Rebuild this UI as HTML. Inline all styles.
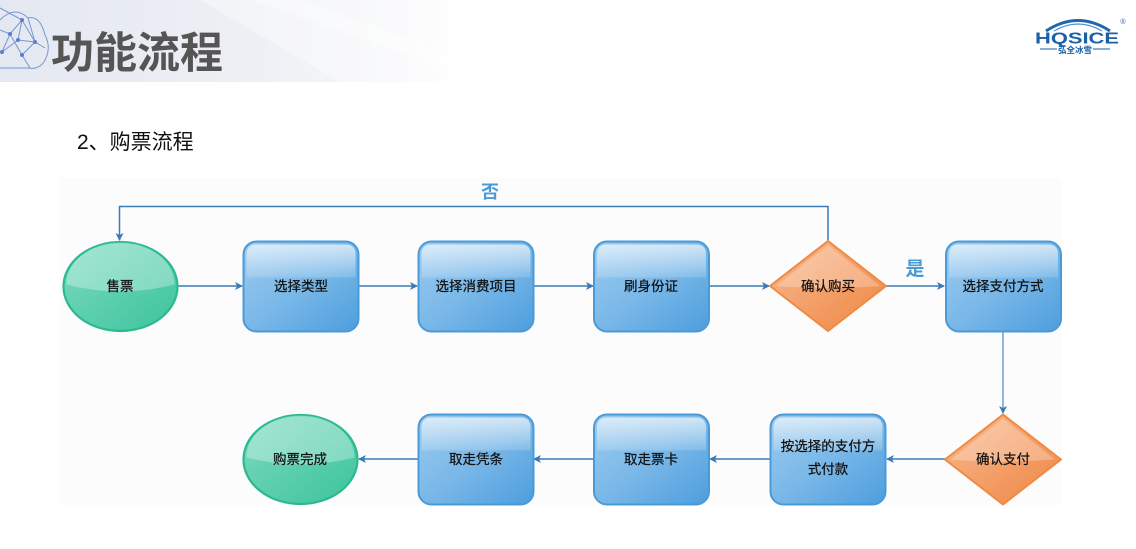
<!DOCTYPE html>
<html><head><meta charset="utf-8"><style>
html,body{margin:0;padding:0;background:#fff;}
body{width:1136px;height:549px;overflow:hidden;position:relative;font-family:"Liberation Sans","Noto Sans CJK SC",sans-serif;}
svg{position:absolute;left:0;top:0;}
</style></head><body>
<svg width="1136" height="549" viewBox="0 0 1136 549" xmlns="http://www.w3.org/2000/svg">
<defs>
  <linearGradient id="hdr" x1="0" y1="0" x2="1" y2="0">
    <stop offset="0" stop-color="#e4e8f1"/>
    <stop offset="0.55" stop-color="#eef0f5"/>
    <stop offset="0.85" stop-color="#f7f8fa"/>
    <stop offset="1" stop-color="#ffffff"/>
  </linearGradient>
  <linearGradient id="blue" x1="0" y1="0" x2="1" y2="1">
    <stop offset="0" stop-color="#9ccbf0"/>
    <stop offset="0.5" stop-color="#7ab8e8"/>
    <stop offset="1" stop-color="#4c9edd"/>
  </linearGradient>
  <linearGradient id="blueGloss" x1="0" y1="0" x2="0" y2="1">
    <stop offset="0" stop-color="#ffffff" stop-opacity="0.65"/>
    <stop offset="1" stop-color="#ffffff" stop-opacity="0.15"/>
  </linearGradient>
  <linearGradient id="green" x1="0" y1="0" x2="1" y2="1">
    <stop offset="0" stop-color="#7fdcc0"/>
    <stop offset="0.5" stop-color="#5ccfae"/>
    <stop offset="1" stop-color="#3cc49c"/>
  </linearGradient>
  <linearGradient id="orange" x1="0" y1="0" x2="1" y2="1">
    <stop offset="0" stop-color="#f8bb92"/>
    <stop offset="0.5" stop-color="#f4a06a"/>
    <stop offset="1" stop-color="#ee8642"/>
  </linearGradient>
  <marker id="ar" markerWidth="8" markerHeight="8" refX="7" refY="4" orient="auto" markerUnits="userSpaceOnUse">
    <path d="M0,0 L8,4 L0,8 L2,4 Z" fill="#3a7bb5"/>
  </marker>
  <g id="box">
    <rect x="0" y="0" width="115" height="90" rx="13" ry="13" fill="url(#blue)" stroke="#4a9ad8" stroke-width="2"/>
    <path d="M3,36 L3,13 Q3,3 13,3 L102,3 Q112,3 112,13 L112,36 Z" fill="url(#blueGloss)"/>
  </g>
  <g id="ell">
    <ellipse cx="0" cy="0" rx="57" ry="44.5" fill="url(#green)" stroke="#2bba90" stroke-width="2.2"/>
    <path d="M-54,-2 A54,42 0 0 1 54,-2 Q0,12 -54,-2 Z" fill="#ffffff" fill-opacity="0.3"/>
  </g>
  <g id="dia">
    <path d="M0,-45 L58,0 L0,45 L-58,0 Z" fill="url(#orange)" stroke="#ef8a45" stroke-width="2" stroke-linejoin="round"/>
    <path d="M0,-41 L52,0 Q0,4 -52,0 Z" fill="#ffffff" fill-opacity="0.25"/>
  </g>
</defs>

<!-- header band -->
<rect x="0" y="0" width="470" height="82" fill="url(#hdr)"/>
<path d="M200,0 L470,0 L470,82 L340,82 Z" fill="#ffffff" fill-opacity="0.35"/>
<path d="M250,0 L300,0 L470,60 L470,75 Z" fill="#ffffff" fill-opacity="0.4"/>

<!-- cloud network icon -->
<g stroke="#6a8fd0" stroke-width="1" fill="none" opacity="0.9">
  <path d="M0,20 Q15,5 28,18 Q40,15 45,35 Q52,48 44,62 Q38,70 28,68 L0,68"/>
  <path d="M2,52 L10,34 L22,20 L35,42 L22,55 L10,34 M22,20 L18,40 L35,42 L45,48 M22,55 L30,68 M18,40 L2,52 M10,34 L0,30 M35,42 L28,18 M0,8 L22,20"/>
</g>
<g fill="#5a80c8">
  <circle cx="10" cy="34" r="2"/><circle cx="22" cy="20" r="2"/><circle cx="35" cy="42" r="2"/>
  <circle cx="22" cy="55" r="2"/><circle cx="18" cy="40" r="2"/><circle cx="2" cy="52" r="2"/>
</g>

<!-- title -->
<text x="51" y="68" font-family="'Liberation Sans','Noto Sans CJK SC',sans-serif" font-size="43" font-weight="bold" fill="#555555">功能流程</text>

<!-- logo -->
<path d="M1046,31 Q1078,10 1110,31" stroke="#1f67b0" stroke-width="3" fill="none"/>
<path d="M1054,31 Q1078,17 1102,31" stroke="#4a8fd0" stroke-width="1.2" fill="none"/>
<text x="1035" y="43.5" textLength="84" lengthAdjust="spacingAndGlyphs" font-family="'Liberation Sans',sans-serif" font-size="15.5" font-weight="bold" fill="#1a5fa8">HQSICE</text>
<line x1="1040" y1="49" x2="1057" y2="49" stroke="#1a5fa8" stroke-width="1"/>
<line x1="1093" y1="49" x2="1110" y2="49" stroke="#1a5fa8" stroke-width="1"/>
<text x="1075" y="53" text-anchor="middle" font-family="'Liberation Sans','Noto Sans CJK SC',sans-serif" font-size="8.5" font-weight="bold" fill="#1a5fa8">弘全冰雪</text>
<text x="1123" y="24" text-anchor="middle" font-family="'Liberation Sans',sans-serif" font-size="7" fill="#1a5fa8">®</text>

<!-- subtitle -->
<text x="77" y="149" font-family="'Liberation Sans','Noto Sans CJK SC',sans-serif" font-size="21" fill="#111">2、购票流程</text>

<!-- diagram background -->
<rect x="60" y="178" width="1001" height="327" fill="#fcfcfc"/>

<!-- connectors -->
<g stroke="#3a7bb5" stroke-width="1.5" fill="none">
  <path d="M828,241 L828,206.5 L119.5,206.5 L119.5,240" marker-end="url(#ar)"/>
  <line x1="178" y1="286" x2="242" y2="286" marker-end="url(#ar)"/>
  <line x1="358" y1="286" x2="417" y2="286" marker-end="url(#ar)"/>
  <line x1="533" y1="286" x2="593" y2="286" marker-end="url(#ar)"/>
  <line x1="708" y1="286" x2="769" y2="286" marker-end="url(#ar)"/>
  <line x1="886" y1="286" x2="944" y2="286" marker-end="url(#ar)"/>
  <line x1="1003" y1="332" x2="1003" y2="413" marker-end="url(#ar)" stroke="#6aa3d2"/>
  <line x1="945" y1="459" x2="887" y2="459" marker-end="url(#ar)"/>
  <line x1="770" y1="459" x2="710" y2="459" marker-end="url(#ar)"/>
  <line x1="594" y1="459" x2="534" y2="459" marker-end="url(#ar)"/>
  <line x1="418" y1="459" x2="359" y2="459" marker-end="url(#ar)"/>
</g>

<!-- labels on connectors -->
<text x="490" y="198" text-anchor="middle" font-family="'Liberation Sans','Noto Sans CJK SC',sans-serif" font-size="18" font-weight="bold" fill="#4a9ad8">否</text>
<text x="915" y="275" text-anchor="middle" font-family="'Liberation Sans','Noto Sans CJK SC',sans-serif" font-size="19" font-weight="bold" fill="#4a9ad8">是</text>

<!-- nodes row 1 -->
<use href="#ell" x="120.5" y="286.5"/>
<use href="#box" x="243.5" y="241.5"/>
<use href="#box" x="418.5" y="241.5"/>
<use href="#box" x="594" y="241.5"/>
<use href="#dia" x="828" y="286"/>
<use href="#box" x="946" y="241.5"/>

<!-- nodes row 2 -->
<use href="#ell" x="300.5" y="459.5"/>
<use href="#box" x="418.5" y="414.5"/>
<use href="#box" x="594" y="414.5"/>
<use href="#box" x="770.5" y="414.5"/>
<use href="#dia" x="1003" y="459.5"/>

<!-- node text -->
<g font-family="'Liberation Sans','Noto Sans CJK SC',sans-serif" font-size="13.5" fill="#111" text-anchor="middle" stroke="#111" stroke-width="0.25">
  <text x="120" y="291">售票</text>
  <text x="301" y="291">选择类型</text>
  <text x="476" y="291">选择消费项目</text>
  <text x="651" y="291">刷身份证</text>
  <text x="828" y="291">确认购买</text>
  <text x="1003" y="291">选择支付方式</text>
  <text x="300" y="464">购票完成</text>
  <text x="476" y="464">取走凭条</text>
  <text x="651" y="464">取走票卡</text>
  <text x="828" y="451">按选择的支付方</text>
  <text x="828" y="474">式付款</text>
  <text x="1003" y="464">确认支付</text>
</g>
</svg>
</body></html>
